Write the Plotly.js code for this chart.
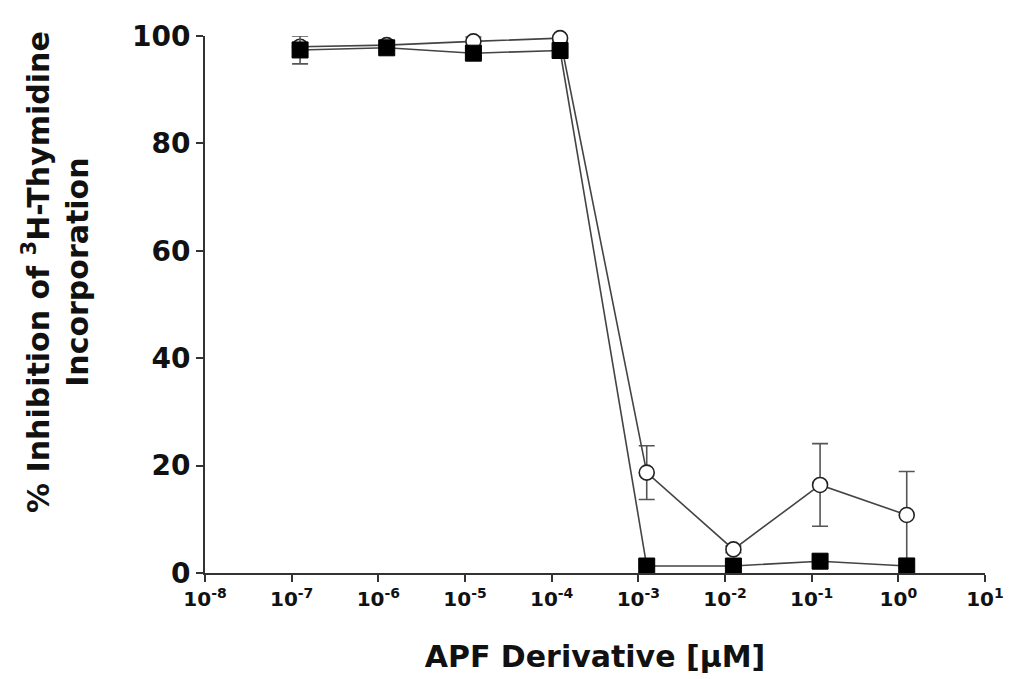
<!DOCTYPE html>
<html>
<head>
<meta charset="utf-8">
<script src="https://cdn.plot.ly/plotly-3.0.1.min.js"></script>
<style>html,body{margin:0;padding:0;background:#fff;}#chart{width:1009px;height:679px;}</style>
</head>
<body>
<div id="chart"></div>
<script>
// Concentrations as plotted (points sit slightly right of each decade tick)
const concentration = [1.25e-7, 1.25e-6, 1.25e-5, 1.25e-4, 1.25e-3, 1.25e-2, 1.25e-1, 1.25];
// Open circles
const circleValues = [98, 98.3, 99, 99.6, 18.7, 4.4, 16.4, 10.8];
const circleErrors = [0.8, 0.6, 0.8, 0.5, 5, 0.6, 7.7, 8.1];
// Filled squares
const squareValues = [97.4, 97.8, 96.8, 97.3, 1.3, 1.3, 2.2, 1.3];
const squareErrors = [2.6, 0.6, 0.8, 0.6, 0.3, 0.3, 0.3, 0.3];
// Axis ticks
const xTickVals = [1e-8, 1e-7, 1e-6, 1e-5, 1e-4, 1e-3, 1e-2, 1e-1, 1, 10];
const xTickText = ['10<sup>-8</sup>', '10<sup>-7</sup>', '10<sup>-6</sup>', '10<sup>-5</sup>', '10<sup>-4</sup>',
                   '10<sup>-3</sup>', '10<sup>-2</sup>', '10<sup>-1</sup>', '10<sup>0</sup>', '10<sup>1</sup>'];
const yTickVals = [0, 20, 40, 60, 80, 100];
const xTitle = 'APF Derivative [μM]';
const yTitle = '% Inhibition of <sup>3</sup>H-Thymidine<br>Incorporation';

const FONT = 'DejaVu Sans, Arial, sans-serif';

const traces = [
  {
    x: concentration, y: circleValues, type: 'scatter', mode: 'lines+markers',
    error_y: {type: 'data', array: circleErrors, visible: true, color: '#555', thickness: 1.6, width: 8},
    line: {color: '#444', width: 1.6},
    marker: {symbol: 'circle', size: 15, color: '#fff', line: {color: '#222', width: 1.6}},
    cliponaxis: false, showlegend: false
  },
  {
    x: concentration, y: squareValues, type: 'scatter', mode: 'lines+markers',
    error_y: {type: 'data', array: squareErrors, visible: true, color: '#555', thickness: 1.6, width: 8},
    line: {color: '#444', width: 1.6},
    marker: {symbol: 'square', size: 16, color: '#000', line: {color: '#000', width: 1}},
    cliponaxis: false, showlegend: false
  }
];

const layout = {
  width: 1009, height: 679,
  margin: {l: 205, r: 24, t: 36, b: 106},
  paper_bgcolor: '#fff', plot_bgcolor: '#fff',
  font: {family: FONT, color: '#111'},
  xaxis: {
    type: 'log', range: [-8, 1],
    tickvals: xTickVals, ticktext: xTickText,
    ticks: 'outside', ticklen: 7, tickwidth: 2, tickcolor: '#333',
    showline: true, linecolor: '#333', linewidth: 2,
    showgrid: false, zeroline: false,
    tickfont: {family: FONT, size: 20, weight: 'bold', color: '#111'},
    title: {text: xTitle, font: {family: FONT, size: 30, weight: 'bold', color: '#111'}, standoff: 36}
  },
  yaxis: {
    range: [0, 100],
    tickvals: yTickVals,
    ticks: 'outside', ticklen: 7, tickwidth: 2, tickcolor: '#333',
    showline: true, linecolor: '#333', linewidth: 2,
    showgrid: false, zeroline: false,
    tickfont: {family: FONT, size: 28, weight: 'bold', color: '#111'}
  },
  annotations: [{
    text: yTitle, xref: 'paper', yref: 'paper',
    x: (56 - 205) / 780, y: (573 - 272) / 537,
    xanchor: 'center', yanchor: 'middle', textangle: -90, showarrow: false,
    font: {family: FONT, size: 30, weight: 'bold', color: '#111'}
  }]
};

Plotly.newPlot('chart', traces, layout, {displayModeBar: false, staticPlot: true});
</script>
</body>
</html>
